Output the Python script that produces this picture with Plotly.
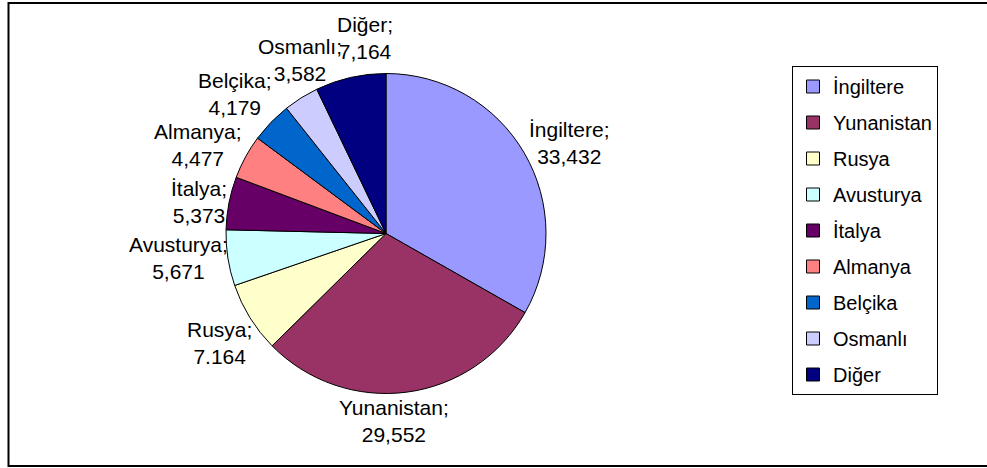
import math
import plotly.graph_objects as go

# ---- data ----
labels = ["İngiltere", "Yunanistan", "Rusya", "Avusturya", "İtalya",
          "Almanya", "Belçika", "Osmanlı", "Diğer"]
values = [33.432, 29.552, 7.164, 5.671, 5.373, 4.477, 4.179, 3.582, 7.164]
value_text = ["33,432", "29,552", "7.164", "5,671", "5,373",
              "4,477", "4,179", "3,582", "7,164"]
colors = ["#9999FF", "#993366", "#FFFFCC", "#CCFFFF", "#660066",
          "#FF8080", "#0066CC", "#CCCCFF", "#000080"]

W, H = 987, 468
FONT = "Liberation Sans, Arial, sans-serif"
FS = 21

# pie geometry in pixels
cx, cy, R = 386, 233.5, 160

# small angular (degrees) and radial (px) nudges mimicking the original label layout
label_nudge_deg = {"İngiltere": 3.9, "Yunanistan": 5.0, "Rusya": -1.5,
                   "Avusturya": 2.0, "İtalya": -1.3, "Almanya": -3.4,
                   "Belçika": -1.4, "Osmanlı": 5.7, "Diğer": 6.7}
label_nudge_r = {"Osmanlı": -6, "Diğer": 9, "Belçika": 3}

# approximate Arial glyph widths (em) for label box estimation
GW = {"a": .556, "b": .556, "c": .5, "ç": .5, "d": .556, "e": .556, "g": .556,
      "ğ": .556, "i": .222, "ı": .222, "k": .5, "l": .222, "m": .833,
      "n": .556, "r": .333, "s": .5, "t": .278, "u": .556, "v": .5, "y": .5,
      "İ": .278, "Y": .667, "R": .722, "A": .667, "B": .667, "O": .778,
      "D": .722, ",": .278, ".": .278, ";": .278}


def text_w(s):
    return sum(GW.get(ch, .556) for ch in s) * 20


fig = go.Figure()
fig.add_trace(go.Pie(
    labels=labels, values=values, sort=False, direction="clockwise",
    rotation=0, textinfo="none", hoverinfo="label+value",
    marker=dict(colors=colors, line=dict(color="black", width=1)),
    showlegend=False,
    domain=dict(x=[(cx - R) / W, (cx + R) / W],
                y=[1 - (cy + R) / H, 1 - (cy - R) / H]),
))

# legend entries (one per category)
for lab, col in zip(labels, colors):
    fig.add_trace(go.Scatter(
        x=[None], y=[None], mode="markers", name=lab, legendgroup=lab,
        marker=dict(symbol="square", size=13, color=col,
                    line=dict(color="black", width=1)),
    ))

# data labels positioned from slice mid-angles
total = sum(values)
cum = 0.0
annotations = []
for lab, v, vt in zip(labels, values, value_text):
    mid = (cum + v / 2) / total * 2 * math.pi
    cum += v
    mid += math.radians(label_nudge_deg.get(lab, 0.0))
    dx, dy = math.sin(mid), -math.cos(mid)
    text_lines = [lab + ";", vt]
    w = max(text_w(t) for t in text_lines)
    h = 52
    proj = abs(dx) * w / 2 + abs(dy) * h / 2
    d = R - 1 + proj + label_nudge_r.get(lab, 0)
    px, py = cx + d * dx, cy + d * dy
    annotations.append(dict(
        x=px / W, y=1 - py / H, xref="paper", yref="paper",
        text="<br>".join(text_lines), showarrow=False,
        xanchor="center", yanchor="middle", align="center",
        font=dict(family=FONT, size=FS, color="black"),
    ))

fig.update_layout(
    width=W, height=H,
    margin=dict(l=0, r=0, t=0, b=0),
    paper_bgcolor="white", plot_bgcolor="white",
    xaxis=dict(visible=False), yaxis=dict(visible=False),
    annotations=annotations,
    legend=dict(
        x=792 / W, y=1 - 66 / H, xanchor="left", yanchor="top",
        bordercolor="black", borderwidth=1, bgcolor="white",
        font=dict(family=FONT, size=20, color="black"),
        tracegroupgap=7, itemwidth=30,
    ),
    shapes=[dict(type="rect", xref="paper", yref="paper",
                 x0=8.5 / W, x1=1.02, y0=1 - 466 / H, y1=1 - 3 / H,
                 line=dict(color="black", width=2))],
)

fig.write_html("out.html", config={"displayModeBar": False},
               post_script="document.body.style.margin='0px';"
                           "document.body.style.overflow='hidden';")
